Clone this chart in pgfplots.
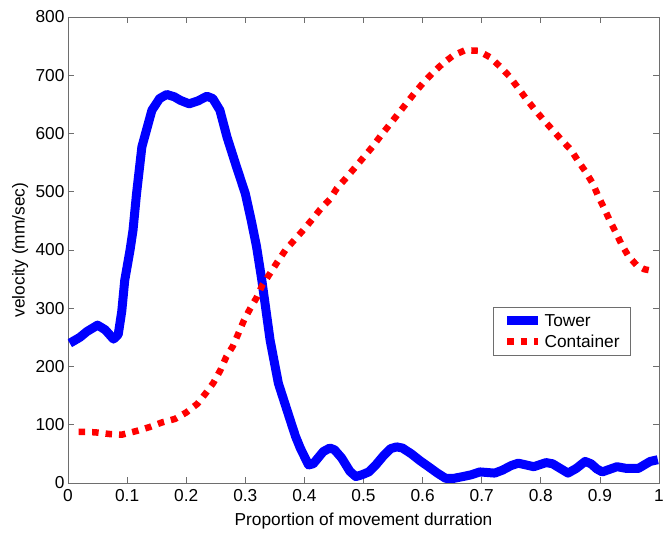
\documentclass[border=0pt]{standalone}
\usepackage{pgfplots}
\pgfplotsset{compat=1.18}
\usepackage{fontspec}
\setmainfont{Liberation Sans}
\definecolor{axgray}{RGB}{110,110,110}
\begin{document}
\begin{tikzpicture}
\begin{axis}[
  scale only axis,
  width=591bp, height=466bp,
  at={(0,0)}, anchor=origin,
  xmin=0, xmax=1, ymin=0, ymax=800,
  xtick={0,0.1,...,1.0},
  xticklabels={0,0.1,0.2,0.3,0.4,0.5,0.6,0.7,0.8,0.9,1},
  ytick={0,100,...,800},
  tick align=inside,
  major tick length=6bp,
  axis line style={axgray, line width=0.8bp},
  every tick/.style={axgray, line width=0.8bp},
  /pgf/number format/assume math mode=true,
  tick label style={font=\fontsize{17.3bp}{20bp}\selectfont, text=black},
  xticklabel style={yshift=-3bp},
  label style={font=\fontsize{17.3bp}{20bp}\selectfont},
  xlabel={Proportion of movement durration},
  ylabel={velocity (mm/sec)},
  x label style={at={(axis description cs:0.5,0)}, anchor=base, yshift=-42bp},
  y label style={at={(axis description cs:-0.0736,0.5)}, anchor=base, rotate=0},
  legend style={at={(0.9526,0.378)}, anchor=north east, draw=axgray, line width=0.8bp,
    font=\fontsize{17.3bp}{20bp}\selectfont, inner xsep=9bp, inner ysep=5bp, row sep=3bp},
  legend cell align=left,
  legend image code/.code={\draw[#1] (0bp,0bp) -- (31bp,0bp);},
]
\addplot[blue, line width=9bp, line join=round] coordinates {
(0.003,240) (0.02,250) (0.032,260) (0.05,271) (0.063,263) (0.077,247) (0.085,255)
(0.091,295) (0.096,348) (0.105,400) (0.11,434) (0.116,497) (0.125,577) (0.142,640)
(0.155,660) (0.167,667) (0.18,663) (0.19,657) (0.205,651) (0.22,656) (0.235,664)
(0.245,660) (0.257,640) (0.269,594) (0.285,543) (0.3,497) (0.31,451) (0.319,406)
(0.328,348) (0.342,245) (0.356,171) (0.376,108) (0.385,80) (0.393,60) (0.407,31)
(0.415,33) (0.432,54) (0.443,60) (0.451,57) (0.463,43) (0.477,20) (0.487,11)
(0.497,14) (0.509,19) (0.52,30) (0.534,47) (0.546,59) (0.556,62) (0.566,60)
(0.581,50) (0.596,38) (0.61,28) (0.625,17) (0.639,8) (0.653,8) (0.668,11)
(0.682,14) (0.697,19) (0.722,17) (0.735,22) (0.75,30) (0.762,34) (0.775,31)
(0.788,28) (0.809,35) (0.82,33) (0.828,28) (0.846,17) (0.86,25) (0.875,37)
(0.885,33) (0.895,24) (0.904,19) (0.915,23) (0.929,28) (0.945,25) (0.965,25)
(0.975,31) (0.985,37) (0.998,40)
};
\addlegendentry{Tower}
\addplot[red, line width=6.5bp, dash pattern=on 6.5bp off 7bp] coordinates {
(0.018,88) (0.046,87) (0.071,84) (0.091,83) (0.115,89) (0.138,96) (0.159,104)
(0.181,110) (0.2,121) (0.219,136) (0.233,154) (0.246,172) (0.258,194) (0.268,217)
(0.279,235) (0.288,256) (0.298,280) (0.308,299) (0.319,318) (0.329,340) (0.342,360)
(0.354,379) (0.368,400) (0.382,416) (0.397,433) (0.412,451) (0.427,470) (0.443,487)
(0.455,506) (0.47,523) (0.486,542) (0.5,559) (0.515,577) (0.529,596) (0.544,615)
(0.558,633) (0.572,651) (0.586,669) (0.601,687) (0.617,704) (0.634,720) (0.652,734)
(0.672,743) (0.694,742) (0.714,731) (0.731,715) (0.747,698) (0.761,679) (0.775,660)
(0.789,642) (0.804,624) (0.82,606) (0.835,589) (0.851,572) (0.863,553) (0.876,534)
(0.888,514) (0.897,493) (0.907,472) (0.917,450) (0.927,430) (0.937,409) (0.948,390)
(0.962,374) (0.975,367) (0.99,364)
};
\addlegendentry{Container}
\end{axis}
\useasboundingbox (-68bp,-58bp) rectangle (604bp,483bp);
\end{tikzpicture}
\end{document}
